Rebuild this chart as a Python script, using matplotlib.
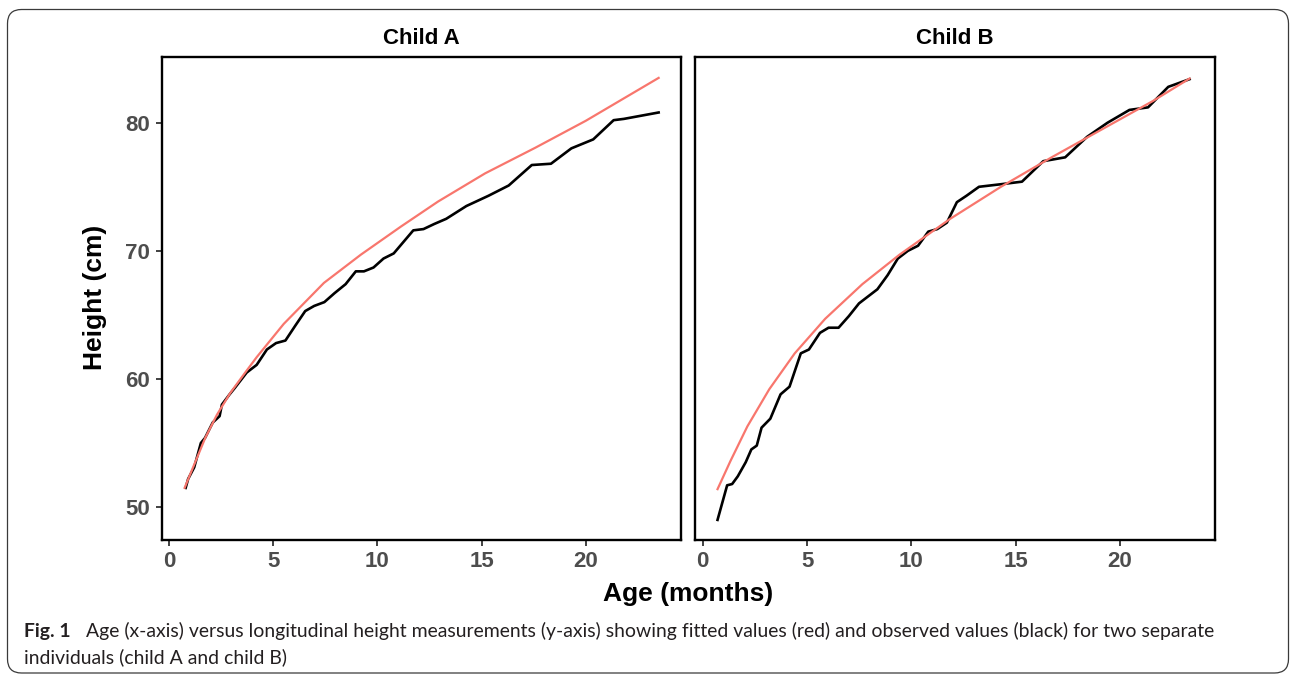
import matplotlib
matplotlib.use('Agg')
import matplotlib.pyplot as plt
from matplotlib.patches import FancyBboxPatch
from matplotlib.transforms import IdentityTransform

# observed heights, child A
age_a_obs = [0.79, 0.91, 1.20, 1.52, 1.72, 2.09, 2.42, 2.53, 2.90, 3.15, 3.72, 4.20, 4.69, 5.13,
             5.58, 6.07, 6.53, 6.96, 7.45, 7.94, 8.47, 8.96, 9.35, 9.81, 10.29, 10.78, 11.72,
             12.21, 12.73, 13.30, 14.27, 15.33, 16.30, 17.41, 18.33, 19.31, 20.36, 21.34, 21.83, 23.50]
height_a_obs = [51.5, 52.2, 53.1, 55.0, 55.4, 56.6, 57.1, 58.0, 58.8, 59.3, 60.5, 61.1, 62.3, 62.8,
                63.0, 64.2, 65.3, 65.7, 66.0, 66.7, 67.4, 68.4, 68.4, 68.7, 69.4, 69.8, 71.6,
                71.7, 72.1, 72.5, 73.5, 74.3, 75.1, 76.7, 76.8, 78.0, 78.7, 80.2, 80.3, 80.8]

# fitted heights, child A
age_a_fit = [0.74, 1.17, 1.73, 2.29, 2.93, 3.65, 4.20, 5.50, 7.43, 9.20, 11.13, 12.91, 15.17,
             17.58, 20.00, 23.50]
height_a_fit = [51.5, 53.2, 55.4, 57.2, 58.9, 60.5, 61.7, 64.3, 67.5, 69.7, 71.9, 73.85, 76.05,
                78.05, 80.15, 83.5]

# observed heights, child B
age_b_obs = [0.71, 1.17, 1.41, 1.68, 2.06, 2.33, 2.59, 2.82, 3.24, 3.73, 4.16, 4.70, 5.09, 5.62,
             6.03, 6.51, 7.00, 7.49, 8.37, 8.86, 9.35, 9.83, 10.32, 10.81, 11.24, 11.70, 12.18,
             12.64, 13.24, 14.29, 15.30, 16.32, 17.37, 18.42, 19.40, 20.45, 21.34, 22.31, 23.33]
height_b_obs = [49.0, 51.7, 51.8, 52.4, 53.5, 54.5, 54.8, 56.2, 56.9, 58.8, 59.4, 62.0, 62.3, 63.6,
                64.0, 64.0, 64.9, 65.9, 67.0, 68.1, 69.4, 70.0, 70.4, 71.5, 71.7, 72.2, 73.8,
                74.3, 75.0, 75.2, 75.4, 77.0, 77.3, 78.9, 80.0, 81.0, 81.2, 82.8, 83.4]

# fitted heights, child B
age_b_fit = [0.71, 1.33, 2.14, 3.19, 4.41, 5.87, 7.65, 9.43, 11.86, 14.29, 16.72, 19.15, 21.58, 23.33]
height_b_fit = [51.4, 53.6, 56.3, 59.2, 62.0, 64.7, 67.4, 69.7, 72.5, 75.0, 77.3, 79.5, 81.7, 83.45]

titles = ['Child A', 'Child B']
x_ticks = [0, 5, 10, 15, 20]
y_ticks = [50, 60, 70, 80]

caption_bold = 'Fig. 1'
caption_line1 = ('Age (x-axis) versus longitudinal height measurements (y-axis) showing fitted '
                 'values (red) and observed values (black) for two separate')
caption_line2 = 'individuals (child A and child B)'

W, H = 1292, 674
plt.rcParams['font.family'] = ['Liberation Sans', 'DejaVu Sans']

fig = plt.figure(figsize=(W / 100, H / 100), dpi=100)

# rounded frame around the whole figure
frame = FancyBboxPatch((7.5, 1.0), 1281, 663.5, boxstyle='round,pad=0,rounding_size=14',
                       transform=IdentityTransform(), fill=False, edgecolor='#3a3a3a', linewidth=0.9)
fig.patches.append(frame)

axA = fig.add_axes([161.5 / W, 1 - 539.5 / H, 519 / W, 483 / H])
axB = fig.add_axes([695 / W, 1 - 539.5 / H, 520 / W, 483 / H])

panels = [(axA, age_a_obs, height_a_obs, age_a_fit, height_a_fit),
          (axB, age_b_obs, height_b_obs, age_b_fit, height_b_fit)]

for i, (ax, xo, yo, xf, yf) in enumerate(panels):
    ax.plot(xo, yo, color='black', linewidth=1.9, solid_joinstyle='round')
    ax.plot(xf, yf, color='#F8766D', linewidth=1.6, solid_joinstyle='round')
    ax.set_xlim(-0.37, 24.55)
    ax.set_ylim(47.47, 85.17)
    ax.set_xticks(x_ticks)
    ax.set_yticks(y_ticks)
    for s in ax.spines.values():
        s.set_linewidth(1.7)
        s.set_color('black')
    ax.tick_params(axis='both', length=4.5, width=1.3, color='#333333',
                   labelsize=16, labelcolor='#4D4D4D')
    ax.tick_params(axis='x', pad=4)
    ax.tick_params(axis='y', pad=4)
    for lab in ax.get_xticklabels() + ax.get_yticklabels():
        lab.set_fontweight('bold')
    if i == 1:
        ax.tick_params(axis='y', left=False, labelleft=False)

fig.text(421 / W, 1 - 43.5 / H, titles[0], ha='center', va='baseline', fontsize=16, fontweight='bold')
fig.text(955 / W, 1 - 43.5 / H, titles[1], ha='center', va='baseline', fontsize=16, fontweight='bold')

fig.text(95 / W, 1 - 297.5 / H, 'Height (cm)', rotation=90, ha='center', va='center',
         fontsize=19, fontweight='bold')
fig.text(688 / W, 1 - 601 / H, 'Age (months)', ha='center', va='baseline',
         fontsize=19, fontweight='bold')

cap_font = ['Lato', 'DejaVu Sans']
tb = fig.text(24 / W, 1 - 637 / H, caption_bold, ha='left', va='baseline', fontsize=12.5,
              fontweight='bold', family=cap_font, color='#231F20')
t1 = fig.text(86 / W, 1 - 637 / H, caption_line1, ha='left', va='baseline', fontsize=12.5,
              family=cap_font, color='#231F20')
t2 = fig.text(24 / W, 1 - 663 / H, caption_line2, ha='left', va='baseline', fontsize=12.5,
              family=cap_font, color='#231F20')

# size the caption so the first line spans the same width as in the source
fig.canvas.draw()
r = fig.canvas.get_renderer()
w = t1.get_window_extent(r).width
size = 12.5 * (1215 - 86) / w
t1.set_fontsize(size)
t2.set_fontsize(size)
tb.set_fontsize(size)

fig.savefig('out.png', dpi=100)
